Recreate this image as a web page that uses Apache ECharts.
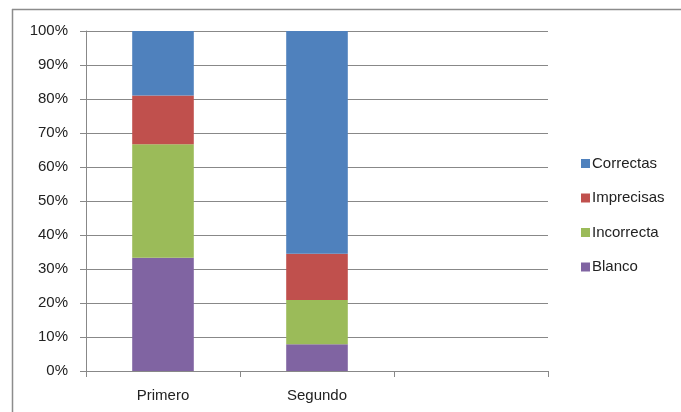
<!DOCTYPE html>
<html><head><meta charset="utf-8">
<script src="https://cdn.jsdelivr.net/npm/echarts@6/dist/echarts.min.js"></script>
</head>
<body style="margin:0;padding:0;background:#fff;">
<div id="chart" style="width:681px;height:412px;"></div>
<script>
// categories (third slot is empty in the original)
const categories = ['Primero', 'Segundo', ''];
// percent values, bottom to top
const blanco     = [33.3, 7.9, null];
const incorrecta = [33.4, 13.0, null];
const imprecisas = [14.3, 13.6, null];
const correctas  = [19.0, 65.5, null];
const legendOrder = ['Correctas', 'Imprecisas', 'Incorrecta', 'Blanco'];

const font = 'Liberation Sans, Arial, sans-serif';
const chart = echarts.init(document.getElementById('chart'));

function bar(name, data, color) {
  return {
    name, type: 'bar', stack: 'total', data,
    barWidth: '40%',
    itemStyle: { color },
    emphasis: { disabled: true },
    animation: false
  };
}

chart.setOption({
  animation: false,
  graphic: [
    { type: 'line', shape: { x1: 12, y1: 9.5, x2: 681, y2: 9.5 }, style: { stroke: '#8c8c8c', lineWidth: 1.5 } },
    { type: 'line', shape: { x1: 12.5, y1: 9, x2: 12.5, y2: 412 }, style: { stroke: '#8c8c8c', lineWidth: 1.5 } }
  ],
  grid: { left: 86, right: 133, top: 31, bottom: 41 },
  legend: {
    data: legendOrder,
    orient: 'vertical',
    left: 576,
    top: 151,
    itemWidth: 9,
    itemHeight: 9,
    itemGap: 19.5,
    icon: 'rect',
    textStyle: { fontFamily: font, fontSize: 15, color: '#222', padding: [0, 0, 0, -3] }
  },
  xAxis: {
    type: 'category',
    data: categories,
    axisLine: { lineStyle: { color: '#888' } },
    axisTick: { show: true, length: 6, interval: 0, lineStyle: { color: '#888' } },
    axisLabel: { fontFamily: font, fontSize: 15, color: '#222', margin: 17, interval: 0 }
  },
  yAxis: {
    type: 'value',
    min: 0, max: 100, interval: 10,
    axisLine: { show: true, lineStyle: { color: '#888' } },
    axisTick: { show: true, length: 6, lineStyle: { color: '#888' } },
    axisLabel: { formatter: '{value}%', fontFamily: font, fontSize: 15, color: '#222', margin: 18 },
    splitLine: { lineStyle: { color: '#888' } }
  },
  series: [
    bar('Blanco', blanco, '#8064a2'),
    bar('Incorrecta', incorrecta, '#9bbb59'),
    bar('Imprecisas', imprecisas, '#c0504d'),
    bar('Correctas', correctas, '#4f81bd')
  ]
});
</script>
</body></html>
